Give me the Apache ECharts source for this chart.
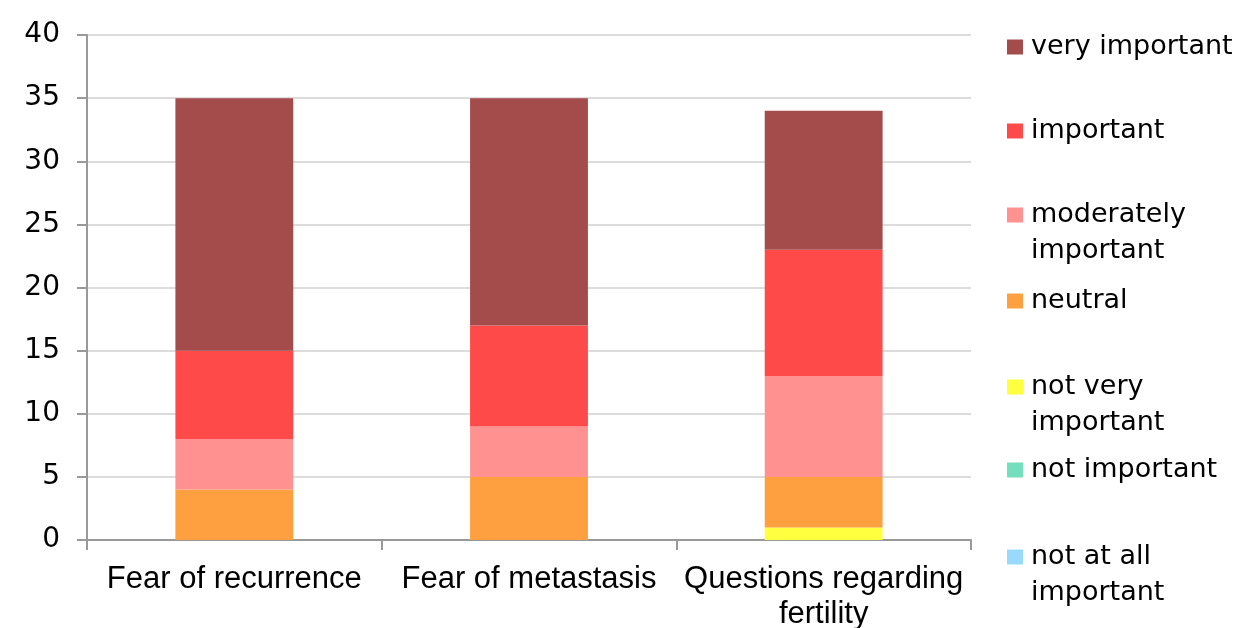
<!DOCTYPE html>
<html>
<head>
<meta charset="utf-8">
<script src="https://cdn.jsdelivr.net/npm/echarts@6/dist/echarts.min.js"></script>
<style>html,body{margin:0;padding:0;background:#fff}#c{width:1248px;height:628px}</style>
</head>
<body>
<div id="c"></div>
<script>
const categories = ['Fear of recurrence', 'Fear of metastasis', 'Questions regarding fertility'];
const notAtAllImportant = [0, 0, 0];
const notImportant = [0, 0, 0];
const notVeryImportant = [0, 0, 1];
const neutral = [4, 5, 4];
const moderatelyImportant = [4, 4, 8];
const important = [7, 8, 10];
const veryImportant = [20, 18, 11];
const yTicks = [0, 5, 10, 15, 20, 25, 30, 35, 40];

const seriesDefs = [
  {name: 'not at all important', data: notAtAllImportant, color: '#99d9ff', two: true, icon: 557},
  {name: 'not important', data: notImportant, color: '#74dfbd', two: false, icon: 470},
  {name: 'not very important', data: notVeryImportant, color: '#ffff40', two: true, icon: 387},
  {name: 'neutral', data: neutral, color: '#ffa040', two: false, icon: 301},
  {name: 'moderately important', data: moderatelyImportant, color: '#ff9191', two: true, icon: 215},
  {name: 'important', data: important, color: '#ff4a4a', two: false, icon: 131},
  {name: 'very important', data: veryImportant, color: '#a44c4c', two: false, icon: 47}
];

const LH = 36;
const legends = seriesDefs.map(s => ({
  orient: 'vertical',
  left: 1007,
  top: s.icon - (s.two ? 54 : 18),
  padding: 0,
  itemWidth: 16,
  itemHeight: 15,
  icon: 'rect',
  selectedMode: false,
  formatter: n => s.two
    ? '{s|}\n{s|}' + n.replace(/ important$/, '') + '\n{s|}important'
    : '{s|}' + n,
  data: [s.name],
  textStyle: {
    fontFamily: 'DejaVu Sans', fontSize: 27, color: '#000', lineHeight: LH,
    rich: {s: {width: 3, lineHeight: LH, fontSize: 27}}
  }
}));

const chart = echarts.init(document.getElementById('c'), null, {renderer: 'canvas'});
chart.setOption({
  animation: false,
  backgroundColor: '#fff',
  grid: {left: 87, right: 277, top: 35, bottom: 88, containLabel: false, outerBoundsMode: 'none'},
  legend: legends,
  xAxis: {
    type: 'category',
    data: categories,
    axisLine: {show: true, lineStyle: {color: '#999', width: 2}},
    axisTick: {show: true, length: 10, lineStyle: {color: '#999', width: 2}},
    axisLabel: {
      interval: 0,
      margin: 22,
      fontFamily: 'Liberation Sans',
      fontSize: 31,
      color: '#000',
      lineHeight: 35,
      formatter: v => v.replace(' fertility', '\nfertility')
    }
  },
  yAxis: {
    type: 'value',
    min: yTicks[0],
    max: yTicks[yTicks.length - 1],
    interval: yTicks[1] - yTicks[0],
    axisLine: {show: true, lineStyle: {color: '#999', width: 2}},
    axisTick: {show: true, length: 10, lineStyle: {color: '#999', width: 2}},
    splitLine: {show: true, lineStyle: {color: '#dcdcdc', width: 2}},
    axisLabel: {margin: 27, fontFamily: 'DejaVu Sans', fontSize: 28, color: '#000'}
  },
  series: seriesDefs.map(s => ({
    name: s.name,
    type: 'bar',
    stack: 'total',
    barWidth: '40%',
    data: s.data,
    itemStyle: {color: s.color}
  }))
});
</script>
</body>
</html>
